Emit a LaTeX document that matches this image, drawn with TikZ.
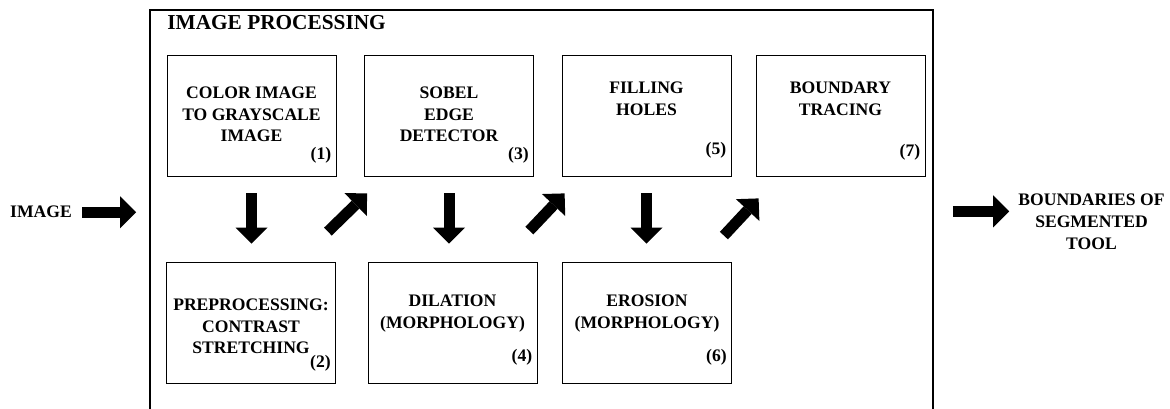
\documentclass[tikz,border=0pt]{standalone}
\usepackage{fontspec}
\setmainfont{Liberation Serif}
\usetikzlibrary{arrows.meta}

\begin{document}
\begin{tikzpicture}
  [x=1pt,y=1pt,every node/.style={inner sep=0pt,align=center,font=\bfseries\fontsize{17.6}{21.7}\selectfont}]
 \tikzset{stepbox/.style = {draw,line width=.8pt,minimum width=169pt,minimum height=121pt}}
 \tikzset{bigarrow/.style = {line width=11pt,-{Triangle[length=16pt,width=32pt,line width=0pt]}}}
  \useasboundingbox (0,0) rectangle (1170,409);

  % outer frame, open at the bottom
  \node[draw,line width=1.6pt,minimum width=783pt,minimum height=420pt] (frame) at (541.5,189) {};
  \node[anchor=base west,font=\bfseries\fontsize{21.3}{25}\selectfont] (title) at ([xshift=18pt,yshift=-20pt]frame.north west) {IMAGE PROCESSING};

  \node[stepbox] (s1) at (251.5,293.5) {};
  \node[stepbox] (s2) at (251,86.5)    {};
  \node[stepbox] (s3) at (449,293.5)   {};
  \node[stepbox] (s4) at (452.5,86.5)  {};
  \node[stepbox] (s5) at (646.5,293.5) {};
  \node[stepbox] (s6) at (647,86.5)    {};
  \node[stepbox] (s7) at (840.5,293.5) {};

  \node[anchor=north] (s1t) at ([yshift=-32pt]s1.north) {COLOR IMAGE\\TO GRAYSCALE\\IMAGE};
  \node[anchor=north] (s2t) at ([yshift=-37pt]s2.north) {PREPROCESSING:\\CONTRAST\\STRETCHING};
  \node[anchor=north] (s3t) at ([yshift=-32pt]s3.north) {SOBEL\\EDGE\\DETECTOR};
  \node[anchor=north] (s4t) at ([yshift=-33pt]s4.north) {DILATION\\(MORPHOLOGY)};
  \node[anchor=north] (s5t) at ([yshift=-27pt]s5.north) {FILLING\\HOLES};
  \node[anchor=north] (s6t) at ([yshift=-33pt]s6.north) {EROSION\\(MORPHOLOGY)};
  \node[anchor=north] (s7t) at ([yshift=-27pt]s7.north) {BOUNDARY\\TRACING};

  \foreach \s/\dy in {1/13,2/12,3/13,4/18,5/18,6/18,7/16}
    \node[anchor=south east] (s\s n) at ([xshift=-5pt,yshift=\dy pt]s\s.south east) {(\s)};

  \node[anchor=base west] (img) at (10,191) {IMAGE};
  \node[anchor=north] (out) at (1091.5,215) {BOUNDARIES OF\\SEGMENTED\\TOOL};
  \coordinate (outin) at ([yshift=10.5pt]out.west);

  \draw[bigarrow,shorten <=10pt,shorten >=13pt] (img.east) -- (img.east -| frame.west);
  \draw[bigarrow,shorten <=19pt,shorten >=9pt] (outin -| frame.east) -- (outin);

  \foreach \from/\to in {s1/s2,s3/s4,s5/s6}
    \draw[bigarrow,shorten <=17pt,shorten >=18pt] (\from.south) -- (\from.south |- \to.north);

  \foreach \from/\to/\ty/\hy in {s2/s3/30/17,s4/s5/31/17,s6/s7/26/22}
    \draw[bigarrow] ([xshift=-8pt,yshift=\ty pt]\from.north east) -- ([xshift=3pt,yshift=-\hy pt]\to.south west);

\end{tikzpicture}
\end{document}
